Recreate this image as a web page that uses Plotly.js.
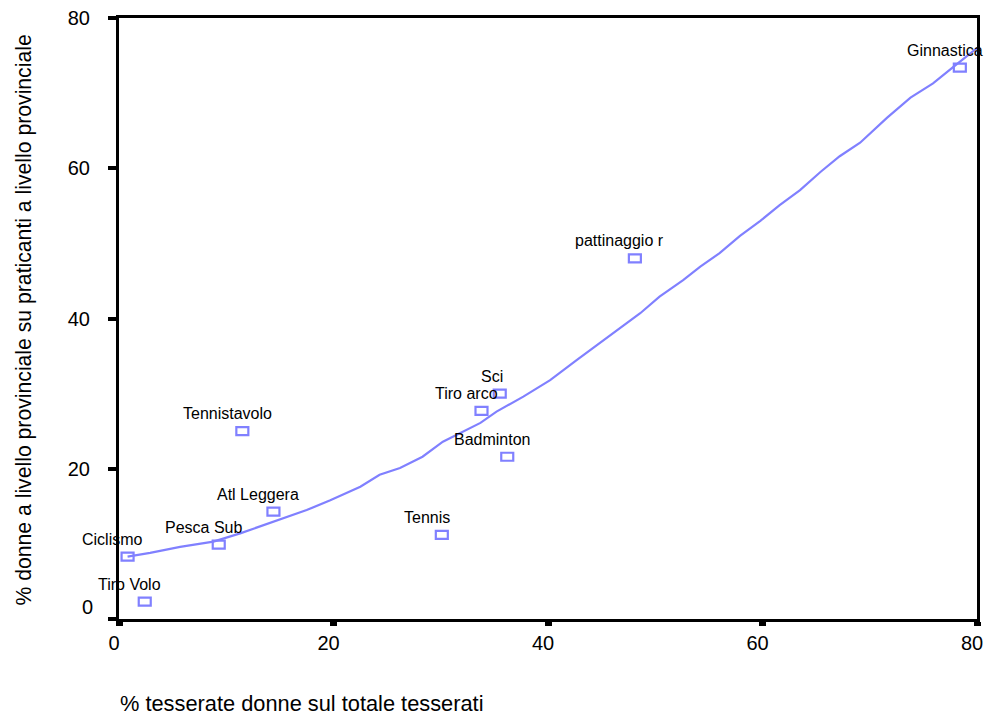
<!DOCTYPE html>
<html>
<head>
<meta charset="utf-8">
<script src="https://cdn.plot.ly/plotly-3.0.1.min.js"></script>
<style>
  html, body { margin: 0; padding: 0; background: #ffffff; }
  #chart { width: 986px; height: 715px; }
</style>
</head>
<body>
<div id="chart"></div>
<script>
// Sport federations: share of women among members vs share of women at provincial level
const sports = ['Ciclismo', 'Tiro Volo', 'Pesca Sub', 'Atl Leggera', 'Tennistavolo', 'Tennis',
                'Sci', 'Tiro arco', 'Badminton', 'pattinaggio r', 'Ginnastica'];
const pctMembers = [0.8, 2.4, 9.3, 14.4, 11.5, 30.1, 35.5, 33.8, 36.2, 48.1, 78.4];
const pctProvincial = [8.3, 2.3, 9.9, 14.3, 25.0, 11.2, 30.0, 27.7, 21.6, 48.0, 73.4];

// Smoothed fit line
const fitX = [0.8, 2.9, 5.7, 8.8, 11.3, 14.1, 15.9, 17.5, 19.7, 22.5, 24.3, 26.2, 28.3, 30.2,
              33.7, 35.2, 37.7, 40.2, 42.7, 44.8, 46.7, 48.6, 50.4, 52.6, 54.2, 56.0, 57.9,
              59.8, 61.6, 63.5, 65.4, 67.2, 69.1, 71.6, 73.8, 75.9, 77.8, 80.0];
const fitY = [8.3, 8.8, 9.6, 10.3, 11.4, 12.8, 13.6, 14.5, 15.8, 17.6, 19.2, 20.1, 21.6, 23.6,
              26.1, 27.6, 29.6, 31.8, 34.5, 36.7, 38.7, 40.7, 42.9, 45.1, 46.9, 48.7, 51.0,
              53.0, 55.1, 57.1, 59.5, 61.6, 63.4, 66.7, 69.4, 71.3, 73.5, 76.0];

const xTickVals = [0, 20, 40, 60, 80];
const yTickVals = [0, 20, 40, 60, 80];

const xTitle = '% tesserate donne sul totale tesserati';
const yTitle = '% donne a livello provinciale su praticanti a livello provinciale';

const markColor = '#8080ff';
const fontFamily = '"Liberation Sans", Arial, sans-serif';

// Hollow rectangular markers anchored to data coordinates, sized in pixels
const markerShapes = pctMembers.map((xv, i) => ({
  type: 'rect', xref: 'x', yref: 'y',
  xsizemode: 'pixel', ysizemode: 'pixel',
  xanchor: xv, yanchor: pctProvincial[i],
  x0: -6, x1: 6, y0: -4, y1: 4,
  line: { color: markColor, width: 2.2 },
  fillcolor: 'rgba(0,0,0,0)'
}));

// Point labels above each marker
const labelAnns = sports.map((name, i) => ({
  x: pctMembers[i], y: pctProvincial[i], xref: 'x', yref: 'y',
  text: name, showarrow: false,
  xanchor: 'center', yanchor: 'middle',
  xshift: -Math.min(15, name.length * 2.6), yshift: 17.5,
  font: { family: fontFamily, size: 16, color: '#000000' }
}));

const traces = [
  {
    x: fitX, y: fitY, type: 'scatter', mode: 'lines',
    line: { color: markColor, width: 2.2 },
    hoverinfo: 'skip', cliponaxis: false
  },
  {
    x: pctMembers, y: pctProvincial, text: sports, type: 'scatter', mode: 'markers',
    marker: { size: 12, color: 'rgba(0,0,0,0)' },
    hovertemplate: '%{text}: %{x}, %{y}<extra></extra>'
  }
];

const layout = {
  width: 986, height: 715,
  margin: { l: 119, r: 9, t: 18, b: 96 },
  paper_bgcolor: '#ffffff', plot_bgcolor: '#ffffff',
  showlegend: false,
  font: { family: fontFamily, color: '#000000' },
  xaxis: {
    range: [0, 80], tickvals: xTickVals, ticktext: xTickVals.map(String),
    showgrid: false, zeroline: false,
    showline: true, linecolor: '#000000', linewidth: 3, mirror: true,
    ticks: 'outside', ticklen: 4, tickwidth: 7, tickcolor: '#000000',
    ticklabelshift: -5, ticklabelstandoff: 0,
    tickfont: { family: fontFamily, size: 20, color: '#000000' }
  },
  yaxis: {
    range: [0, 80], tickvals: yTickVals,
    ticktext: yTickVals.map((v, i) => i === 0 ? '' : String(v)),
    showgrid: false, zeroline: false,
    showline: true, linecolor: '#000000', linewidth: 3, mirror: true,
    ticks: 'outside', ticklen: 8, tickwidth: 4, tickcolor: '#000000',
    ticklabelstandoff: 14,
    tickfont: { family: fontFamily, size: 20, color: '#000000' }
  },
  shapes: markerShapes,
  annotations: labelAnns.concat([
    {
      // lowest y tick label, lifted clear of the x-axis labels
      x: 0, y: yTickVals[0], xref: 'paper', yref: 'y',
      text: String(yTickVals[0]), showarrow: false,
      xanchor: 'right', yanchor: 'middle', xshift: -24, yshift: 12,
      font: { family: fontFamily, size: 20, color: '#000000' }
    },
    {
      x: 0, y: 0, xref: 'paper', yref: 'paper',
      text: xTitle, showarrow: false,
      xanchor: 'left', yanchor: 'middle', xshift: -1, yshift: -84,
      font: { family: fontFamily, size: 21.8, color: '#000000' }
    },
    {
      x: 0, y: 0.5, xref: 'paper', yref: 'paper',
      text: yTitle, showarrow: false, textangle: -90,
      xanchor: 'center', yanchor: 'middle', xshift: -96, yshift: -2,
      font: { family: fontFamily, size: 21.2, color: '#000000' }
    }
  ])
};

Plotly.newPlot('chart', traces, layout, { displayModeBar: false, staticPlot: true });
</script>
</body>
</html>
